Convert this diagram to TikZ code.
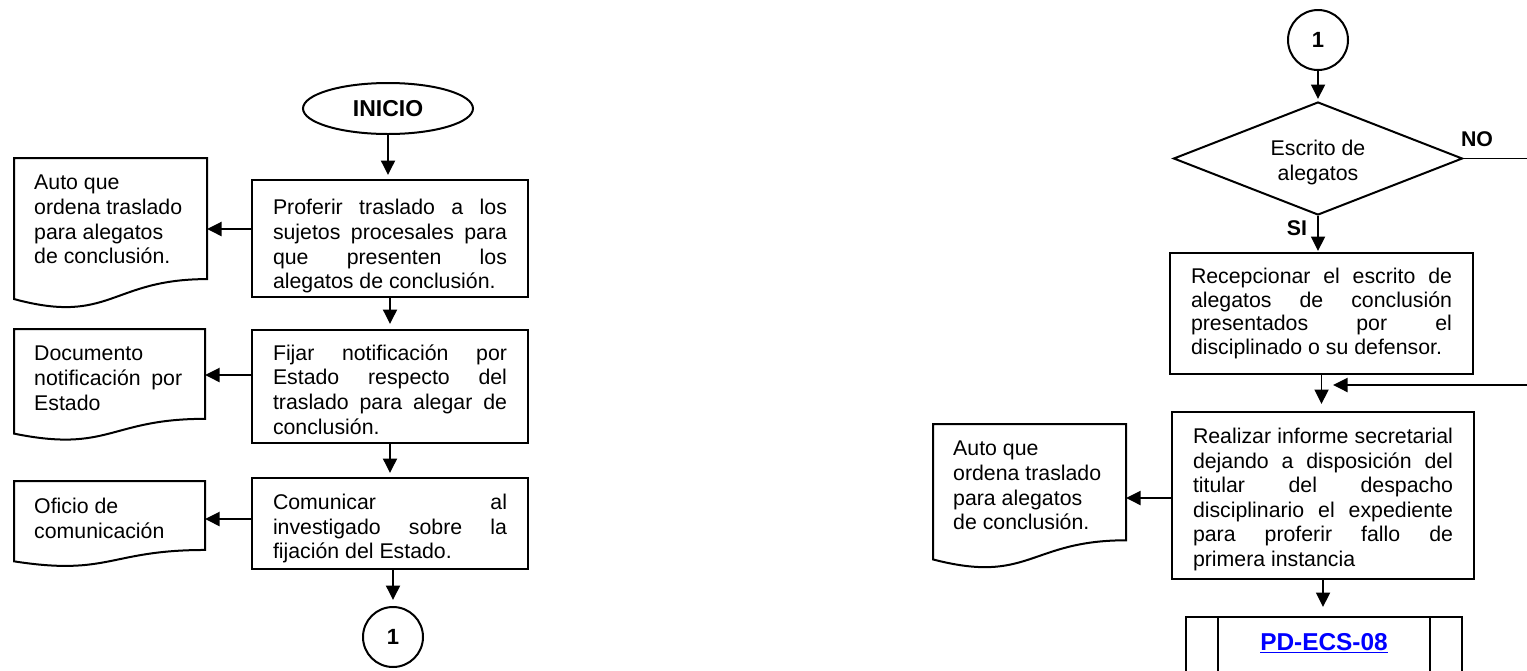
\documentclass[tikz,border=0pt]{standalone}
\usepackage{fontspec}
\setmainfont{Liberation Sans}
\usetikzlibrary{shapes.geometric,arrows.meta,calc}
\newcommand\jl[2]{\makebox[#1][s]{#2}}
\newcommand\up[1]{\rule{0pt}{#1}}
\newcommand\docshape[6]{%
  \node[docrect, minimum width=#4, minimum height={0.802*#5}] (#1) at (#2,#3) {};
  \draw[shapeline] (#1.north west) -- (#1.north east) -- (#1.south east)
     .. controls (#1.south) and ($(#1.south)+(0,{0.3055*#5})$) .. ($(#1.south west)+(0,{0.132*#5})$) -- cycle;
  \node[doctext] (#1t) at ($(#1.north west)+(20,17)$) {#6};}
\begin{document}
\begin{tikzpicture}[x=1pt,y=-1pt,
  every node/.style={font=\fontsize{21.3}{24.6}\selectfont, inner sep=0pt},
  shapeline/.style={line width=2pt},
  arr/.style={line width=1.9pt, -{Triangle[length=14.5pt,width=14pt]}},
  procbox/.style={draw, line width=2pt, rectangle, align=left},
  docrect/.style={rectangle, anchor=north west, outer sep=0pt},
  doctext/.style={anchor=north west, align=left},
  lbl/.style={font=\fontsize{21.3}{24.6}\selectfont\bfseries},
  conn/.style={draw, circle, line width=2pt, minimum size=60, font=\fontsize{22}{24}\selectfont\bfseries},
]
\fill[white] (0,0) rectangle (1527,670);
\useasboundingbox (0,0) rectangle (1527,670);
\clip (0,0) rectangle (1527,670);

% ---------------- left column ----------------
\node[draw, ellipse, line width=2pt, minimum width=170, minimum height=51,
      font=\fontsize{23}{25}\selectfont\bfseries] (start) at (388,108.5) {INICIO};

\node[procbox, minimum width=276, minimum height=117] (b1) at (390,238.5)
 {\up{31pt}\jl{234pt}{Proferir traslado a los}\\\jl{234pt}{sujetos procesales para}\\\jl{234pt}{que presenten los}\\alegatos de conclusión.};
\node[procbox, minimum width=276, minimum height=113] (b2) at (390,386.5)
 {\up{21.5pt}\jl{234pt}{Fijar notificación por}\\\jl{234pt}{Estado respecto del}\\\jl{234pt}{traslado para alegar de}\\conclusión.};
\node[procbox, minimum width=276, minimum height=91] (b3) at (390,523.5)
 {\up{25.5pt}\jl{234pt}{Comunicar al}\\\jl{234pt}{investigado sobre la}\\fijación del Estado.};
\node[conn] (c1) at (393,637) {1};

\docshape{d1}{14}{158}{193}{151}{Auto que\\ordena traslado\\para alegatos\\de conclusión.}
\docshape{d2}{14}{329}{191}{112}{Documento\\\jl{148pt}{notificación por}\\Estado}
\docshape{d3}{14}{481}{191}{86}{Oficio de\\comunicación}

\draw[arr, shorten >=4pt] (start.south) -- (start.south |- b1.north);
\draw[arr, shorten >=5pt] (b1.south) -- (b2.north);
\draw[arr, shorten >=4pt] (b2.south) -- (b3.north);
\draw[arr, shorten >=6pt] (c1.north |- b3.south) -- (c1.north);

\coordinate (a1) at ([yshift=9.5pt]b1.west);
\coordinate (a2) at ([yshift=11.5pt]b2.west);
\coordinate (a3) at ([yshift=4.5pt]b3.west);
\draw[arr] (a1) -- (a1 -| d1.east);
\draw[arr] (a2) -- (a2 -| d2.east);
\draw[arr] (a3) -- (a3 -| d3.east);

% ---------------- right column ----------------
\node[conn] (c2) at (1318,40) {1};
\node[draw, diamond, aspect=2.56, line width=2pt, minimum width=289, minimum height=113,
      inner sep=1pt, align=center] (dia) at (1318,158.5) {\up{23.5pt}Escrito de\\alegatos};
\node[lbl] (no) at (1477,139) {NO};
\node[lbl] (si) at (1297,228) {SI};

\node[procbox, minimum width=303, minimum height=121, font=\fontsize{21.3}{23.4}\selectfont] (b4) at (1321.5,313.5)
 {\jl{261pt}{Recepcionar el escrito de}\\\jl{261pt}{alegatos de conclusión}\\\jl{261pt}{presentados por el}\\disciplinado o su defensor.};
\node[procbox, minimum width=302, minimum height=167] (b5) at (1323,495.5)
 {\up{23.5pt}\jl{260pt}{Realizar informe secretarial}\\\jl{260pt}{dejando a disposición del}\\\jl{260pt}{titular del despacho}\\\jl{260pt}{disciplinario el expediente}\\\jl{260pt}{para proferir fallo de}\\primera instancia};

\node[draw, line width=2pt, minimum width=276, minimum height=100, anchor=north,
      font=\fontsize{24.4}{26}\selectfont\bfseries, text=blue] (pd) at (1324,616)
 {\raisebox{50pt}{\underline{PD-ECS-08}}};
\draw[shapeline] ([xshift=33pt]pd.north west) -- ([xshift=33pt]pd.south west);
\draw[shapeline] ([xshift=-33pt]pd.north east) -- ([xshift=-33pt]pd.south east);

\docshape{d4}{933}{424}{193}{145}{Auto que\\ordena traslado\\para alegatos\\de conclusión.}

\draw[arr, shorten >=2pt] (c2.south) -- (dia.north);
\draw[arr, shorten >=1pt] (dia.south) -- (dia.south |- b4.north);
\draw[arr, shorten >=7pt] (b4.south) -- (b4.south |- b5.north);
\draw[arr, shorten >=9pt] (b5.south) -- (b5.south |- pd.north);

\coordinate (xr) at (1560,158.5);
\coordinate (j) at (1333,385);
\draw[arr] (dia.east) -- (xr |- dia.east) |- (j);

\coordinate (a5) at ([yshift=-2.5pt]b5.west);
\draw[arr] (a5) -- (a5 -| d4.east);
\end{tikzpicture}
\end{document}
